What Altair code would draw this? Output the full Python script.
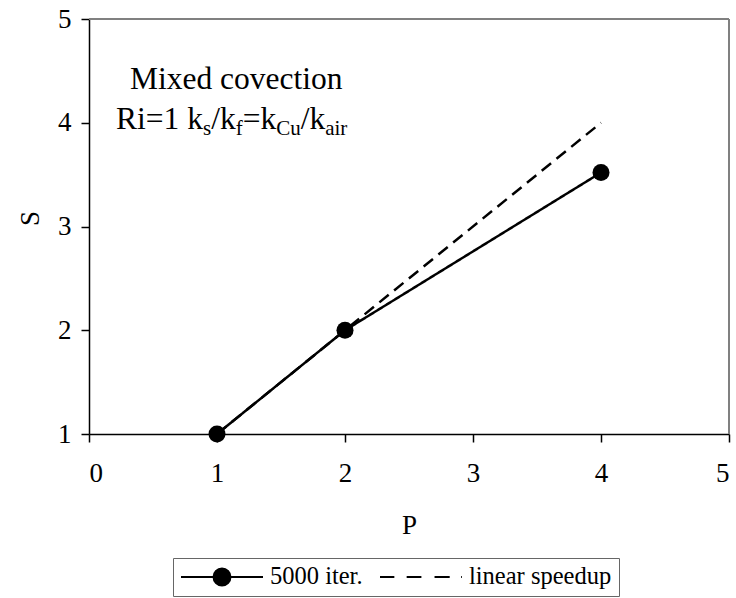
import altair as alt
import pandas as pd

# ---- data ----
series_names = ["5000 iter.", "linear speedup"]
P_iter = [1, 2, 4]
S_iter = [1.0, 2.0, 3.52]
P_lin = [1, 2, 4]
S_lin = [1.0, 2.0, 4.0]
x_ticks = [0, 1, 2, 3, 4, 5]
y_ticks = [1, 2, 3, 4, 5]

FONT = "Liberation Serif"
W, H = 640, 415
TICK_FS = 27
TITLE_FS = 27

df = pd.DataFrame({
    "P": P_iter + P_lin,
    "S": S_iter + S_lin,
    "series": [series_names[0]] * len(P_iter) + [series_names[1]] * len(P_lin),
})
df_iter = df[df["series"] == series_names[0]]

xscale = alt.Scale(domain=[0, 5], nice=False, zero=False)
yscale = alt.Scale(domain=[1, 5], nice=False, zero=False)

x_enc = alt.X("P:Q", scale=xscale, axis=alt.Axis(
    values=x_ticks, title="P", grid=False, labelPadding=18,
    labelFont=FONT, labelFontSize=TICK_FS, labelColor="black",
    domainColor="black", domainWidth=1.5, tickColor="black", tickWidth=1.5, tickSize=8,
    titleFont=FONT, titleFontSize=TITLE_FS, titleColor="black", titleFontWeight="normal",
    titleX=W / 2, titleY=91, titleBaseline="middle", titleAlign="center"))
y_enc = alt.Y("S:Q", scale=yscale, axis=alt.Axis(
    values=y_ticks, title="S", grid=False, labelPadding=10,
    labelFont=FONT, labelFontSize=TICK_FS, labelColor="black",
    domainColor="black", domainWidth=1.5, tickColor="black", tickWidth=1.5, tickSize=8,
    titleFont=FONT, titleFontSize=TITLE_FS, titleColor="black", titleFontWeight="normal",
    titleX=-59, titleY=199, titleBaseline="middle", titleAlign="center"))

# series lines (solid / dashed)
lines = alt.Chart(df).mark_line(color="black", strokeWidth=2.5).encode(
    x=x_enc, y=y_enc,
    strokeDash=alt.StrokeDash("series:N", scale=alt.Scale(range=[[1, 0], [12, 7]]), legend=None),
)

points = alt.Chart(df_iter).mark_circle(color="black", size=290, opacity=1).encode(
    x=x_enc, y=y_enc)

# legend symbols drawn as SVG paths: line with a dot, and a dashed line
rings = [0.024, 0.061, 0.098, 0.134, 0.171, 0.207]
sym_iter = "M-1,0L1,0" + "".join(
    f"M{r},0A{r},{r},0,1,1,{-r},0A{r},{r},0,1,1,{r},0" for r in rings)
sym_lin = "M-1,0L-0.65,0M-0.35,0L0.01,0M0.33,0L0.7,0M0.98,0L1,0"

legend_layer = alt.Chart(df).transform_filter("datum.P < 0").mark_point(
    filled=False, color="black", strokeWidth=2, opacity=1).encode(
    x=x_enc, y=y_enc,
    shape=alt.Shape("series:N", scale=alt.Scale(domain=series_names, range=[sym_iter, sym_lin]),
                    legend=alt.Legend(
                        title=None, orient="none", legendX=84, legendY=539,
                        direction="horizontal", symbolSize=6724, symbolStrokeWidth=2,
                        symbolStrokeColor="black", symbolOpacity=1,
                        clipHeight=24, labelFont=FONT, labelFontSize=24.5, labelColor="black",
                        labelOffset=6, columnPadding=16, padding=7, strokeColor="#666666",
                        labelLimit=300)),
)

# frame: grey top and right borders
one = pd.DataFrame({"a": [0]})
frame_top = alt.Chart(one).mark_rule(color="#808080", strokeWidth=2).encode(
    x=alt.value(0), x2=alt.value(W), y=alt.value(0))
frame_right = alt.Chart(one).mark_rule(color="#808080", strokeWidth=2).encode(
    x=alt.value(W), y=alt.value(0), y2=alt.value(H))

# annotation text (with subscripts)
MAIN, SUB = 31.5, 21
segments = [
    ("Mixed covection", 41, 70, MAIN),
    ("Ri=1 k", 27, 110, MAIN),
    ("s", 114, 116, SUB),
    ("/k", 122.2, 110, MAIN),
    ("f", 146.7, 116, SUB),
    ("=k", 153.7, 110, MAIN),
    ("Cu", 187.2, 116, SUB),
    ("/k", 211.7, 110, MAIN),
    ("air", 236.2, 116, SUB),
]
texts = [
    alt.Chart(one).mark_text(font=FONT, fontSize=fs, align="left", baseline="alphabetic",
                             color="black").encode(
        x=alt.value(tx), y=alt.value(ty), text=alt.value(t))
    for (t, tx, ty, fs) in segments
]

chart = alt.layer(frame_top, frame_right, lines, points, legend_layer, *texts).properties(
    width=W, height=H,
    autosize=alt.AutoSizeParams(type="none"),
    padding={"left": 89, "top": 19, "right": 7, "bottom": 164},
).configure_view(stroke=None)

chart.save("out.html", embed_options={"renderer": "svg", "actions": False})
